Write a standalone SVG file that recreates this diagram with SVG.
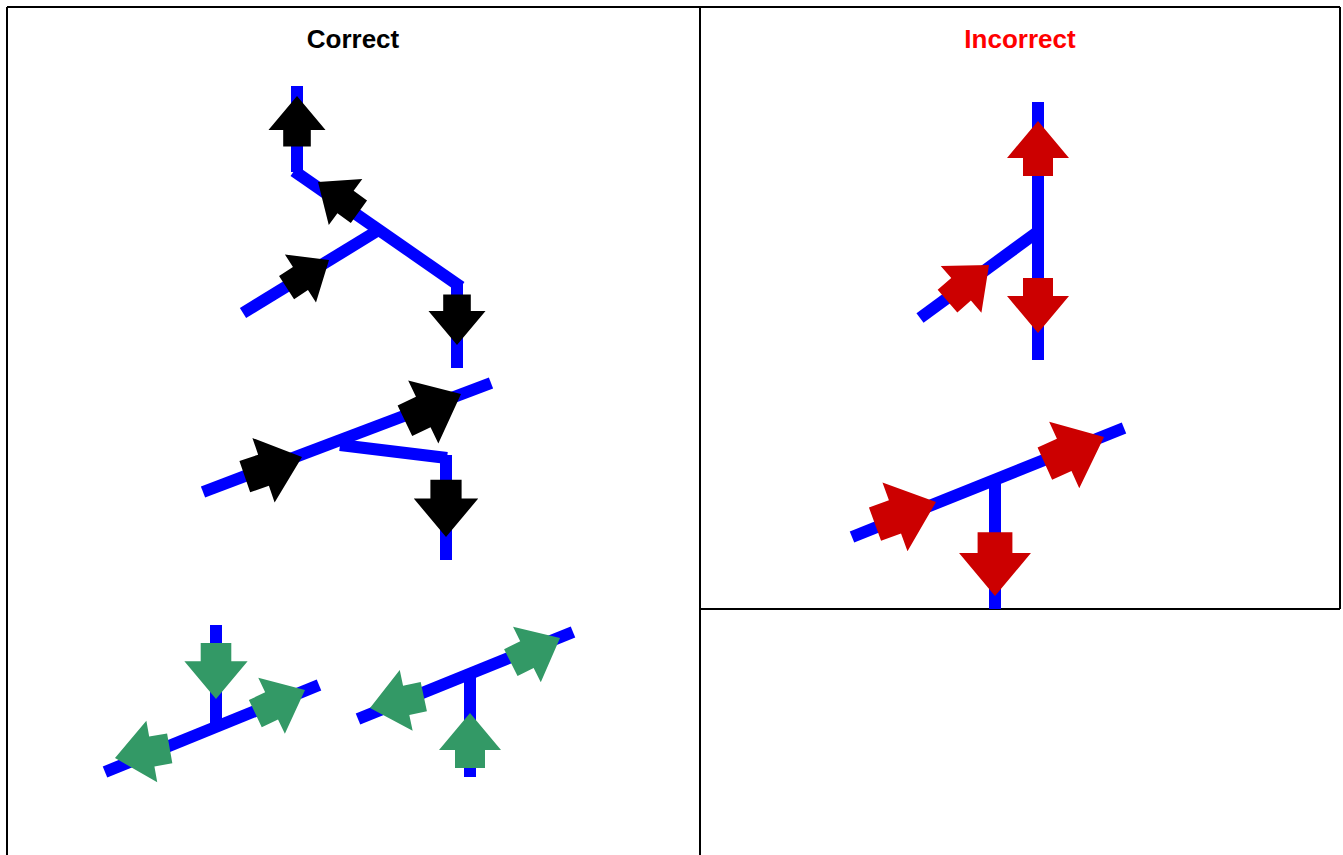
<svg xmlns="http://www.w3.org/2000/svg" width="1343" height="855" viewBox="0 0 1343 855">
<style>
.frame{stroke:#000;stroke-width:2;fill:none}
.pipe{stroke:#0000ff;stroke-width:12;fill:none;stroke-linecap:butt}
.title{font-family:"Liberation Sans",Arial,sans-serif;font-size:26px;font-weight:bold;text-anchor:middle}
.blk{fill:#000}
.grn{fill:#339966}
.red{fill:#cc0000}
</style>
<defs>
<polygon id="arr" points="0,0 -37,-31 -37,-15 -55,-15 -55,15 -37,15 -37,31"/>
</defs>
<rect width="1343" height="855" fill="#fff"/>
<g id="frames">
<line class="frame" x1="7" y1="7" x2="1340" y2="7"/>
<line class="frame" x1="7" y1="7" x2="7" y2="855"/>
<line class="frame" x1="700" y1="7" x2="700" y2="855"/>
<line class="frame" x1="1340" y1="7" x2="1340" y2="609"/>
<line class="frame" x1="700" y1="609" x2="1340" y2="609"/>
</g>
<g id="titles">
<text class="title" x="353" y="48" fill="#000">Correct</text>
<text class="title" x="1020" y="48" fill="#ff0000">Incorrect</text>
</g>
<g id="connectors">
<line class="pipe" x1="297" y1="86" x2="297" y2="172"/>
<line class="pipe" x1="294" y1="171" x2="461" y2="287"/>
<line class="pipe" x1="457" y1="284" x2="457" y2="368"/>
<line class="pipe" x1="243" y1="313" x2="377" y2="231"/>
<line class="pipe" x1="203" y1="492" x2="491" y2="383"/>
<line class="pipe" x1="340" y1="445" x2="447" y2="458"/>
<line class="pipe" x1="446" y1="455" x2="446" y2="560"/>
<line class="pipe" x1="216" y1="625" x2="216" y2="725"/>
<line class="pipe" x1="105" y1="772" x2="319" y2="685"/>
<line class="pipe" x1="358" y1="719" x2="573" y2="632"/>
<line class="pipe" x1="470" y1="676" x2="470" y2="777"/>
<line class="pipe" x1="1038" y1="102" x2="1038" y2="360"/>
<line class="pipe" x1="920" y1="318" x2="1036" y2="233"/>
<line class="pipe" x1="852" y1="537" x2="1124" y2="428"/>
<line class="pipe" x1="995" y1="481" x2="995" y2="609"/>
</g>
<g id="node-correct-1">
<use href="#arr" class="blk" transform="translate(297,96) rotate(-90) scale(0.92)"/>
<use href="#arr" class="blk" transform="translate(318,182) rotate(216) scale(0.92)"/>
<use href="#arr" class="blk" transform="translate(329,260) rotate(-33) scale(0.92)"/>
<use href="#arr" class="blk" transform="translate(457,345) rotate(90) scale(0.92)"/>
</g>
<g id="node-correct-2">
<use href="#arr" class="blk" transform="translate(302,457) rotate(-19) scale(1.1)"/>
<use href="#arr" class="blk" transform="translate(461,394) rotate(-25.5) scale(1.13)"/>
<use href="#arr" class="blk" transform="translate(446,537) rotate(90) scale(1.04)"/>
</g>
<g id="node-correct-3">
<use href="#arr" class="grn" transform="translate(216,699) rotate(90) scale(1.02)"/>
<use href="#arr" class="grn" transform="translate(305,690) rotate(-25.4)"/>
<use href="#arr" class="grn" transform="translate(115,758) rotate(170) scale(1.01)"/>
</g>
<g id="node-correct-4">
<use href="#arr" class="grn" transform="translate(470,713) rotate(-90)"/>
<use href="#arr" class="grn" transform="translate(370,708) rotate(168)"/>
<use href="#arr" class="grn" transform="translate(560,638) rotate(-26.6)"/>
</g>
<g id="node-incorrect-1">
<use href="#arr" class="red" transform="translate(1038,121) rotate(-90)"/>
<use href="#arr" class="red" transform="translate(1038,333) rotate(90)"/>
<use href="#arr" class="red" transform="translate(989,265) rotate(-41)"/>
</g>
<g id="node-incorrect-2">
<use href="#arr" class="red" transform="translate(936,502) rotate(-20) scale(1.18)"/>
<use href="#arr" class="red" transform="translate(1104,437) rotate(-24.3) scale(1.18)"/>
<use href="#arr" class="red" transform="translate(995,596) rotate(90) scale(1.16)"/>
</g>
</svg>
